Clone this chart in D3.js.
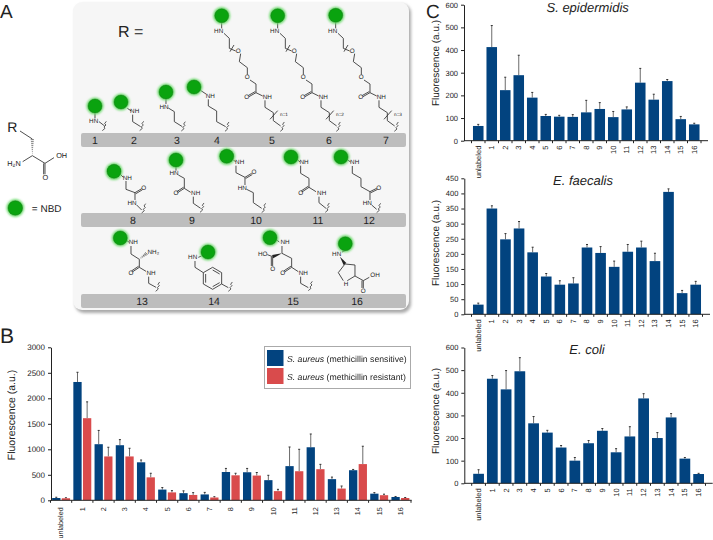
<!DOCTYPE html>
<html>
<head>
<meta charset="utf-8">
<script src="https://cdn.jsdelivr.net/npm/d3@7"></script>
<style>
html, body { margin: 0; padding: 0; background: #fff; }
svg { display: block; }
text { font-family: "Liberation Sans", Arial, sans-serif; fill: #222; text-rendering: geometricPrecision; }
</style>
</head>
<body>
<svg id="fig" width="713" height="540"></svg>
<script>
var categories = ["unlabeled","1","2","3","4","5","6","7","8","9","10","11","12","13","14","15","16"];

var sensitive    = [45,2320,1100,1080,745,210,140,115,555,550,395,670,1040,415,590,130,65];
var sensitiveTop = [60,2510,1370,1190,790,250,185,155,625,625,490,1045,1300,455,605,150,75];
var resistant    = [40,1610,860,860,450,155,105,55,490,485,180,570,610,230,710,100,45];
var resistantTop = [50,1930,1040,1020,530,190,150,70,530,545,215,1000,705,280,1060,120,55];

var epidermidis    = [65,413,223,289,190,109,106,105,125,140,104,138,256,181,263,95,72];
var epidermidisTop = [72,508,280,377,213,116,112,115,178,168,129,149,319,205,270,107,77];
var faecalis       = [32,350,248,284,205,125,98,102,221,203,157,207,221,176,405,70,98];
var faecalisTop    = [37,359,267,307,222,135,111,121,231,224,176,231,242,202,415,79,109];
var coli           = [42,462,415,495,265,224,158,100,177,232,137,207,375,200,291,109,41];
var coliTop        = [60,476,498,555,295,234,167,114,189,242,153,250,396,224,308,114,44];

var blue = "#02437f", red = "#d94b4c";
var svg = d3.select("#fig");

// filters for the soft edges of panel A
var defs = svg.append("defs");
defs.append("filter").attr("id", "glow").attr("x", "-50%").attr("y", "-50%").attr("width", "200%").attr("height", "200%")
  .append("feGaussianBlur").attr("stdDeviation", 1.3);
defs.append("filter").attr("id", "shadow").attr("x", "-5%").attr("y", "-5%").attr("width", "110%").attr("height", "110%")
  .append("feGaussianBlur").attr("stdDeviation", 1.5);

function label(parent, x, y, str, size, opts) {
  opts = opts || {};
  return parent.append("text").attr("x", x).attr("y", y).attr("font-size", size)
    .attr("text-anchor", opts.anchor || "start")
    .attr("font-style", opts.italic ? "italic" : null)
    .text(str);
}

label(svg, 0, 17.5, "A", 19);
label(svg, 0, 343, "B", 21);
label(svg, 426, 17.5, "C", 19);

// ---- panel A ----
svg.append("rect").attr("x", 75).attr("y", 4).attr("width", 336).attr("height", 309).attr("rx", 9)
  .attr("fill", "#aaa").attr("filter", "url(#shadow)");
svg.append("rect").attr("x", 73).attr("y", 2).attr("width", 336).attr("height", 308).attr("rx", 9)
  .attr("fill", "#f6f6f6");
label(svg, 118, 37, "R =", 16);

var strips = [
  {y: 133, names: ["1","2","3","4","5","6","7"], xs: [95,134,177,217,272,329,386]},
  {y: 213, names: ["8","9","10","11","12"], xs: [133,192,256,318,369]},
  {y: 294, names: ["13","14","15","16"], xs: [142,214,293,357]}
];
strips.forEach(function(s) {
  svg.append("rect").attr("x", 81).attr("y", s.y).attr("width", 325).attr("height", 14).attr("rx", 2).attr("fill", "#bdbdbd");
  s.names.forEach(function(n, i) { label(svg, s.xs[i], s.y + 11, n, 10.5, {anchor: "middle"}); });
});

function nbd(x, y, r) {
  svg.append("circle").attr("cx", x).attr("cy", y).attr("r", r + 1.6).attr("fill", "#6fdc6f").attr("filter", "url(#glow)");
  svg.append("circle").attr("cx", x).attr("cy", y).attr("r", r).attr("fill", "#0aa30f").attr("stroke", "#1c6b1c").attr("stroke-width", 0.4);
}

// structures are traced in 3x crop units, the group scales them back down
function sketch(ox, oy) {
  var g = svg.append("g").attr("transform", "translate(" + ox + "," + oy + ") scale(0.3333)");
  var line = d3.line();
  var api = {
    bond: function(pts, w) {
      g.append("path").attr("d", line(pts)).attr("fill", "none").attr("stroke", "#333").attr("stroke-width", w || 2.6);
      return api;
    },
    dbl: function(a, b) {
      var dx = b[0]-a[0], dy = b[1]-a[1], l = Math.sqrt(dx*dx+dy*dy), nx = -dy/l*4, ny = dx/l*4;
      api.bond([a, b]);
      api.bond([[a[0]+nx, a[1]+ny], [b[0]+nx, b[1]+ny]]);
      return api;
    },
    wedge: function(a, b, hashed) {
      var dx = b[0]-a[0], dy = b[1]-a[1], l = Math.sqrt(dx*dx+dy*dy), nx = -dy/l*5, ny = dx/l*5;
      if (hashed) {
        d3.range(0, 1.01, 0.12).forEach(function(t) {
          api.bond([[a[0]+dx*t-nx*t, a[1]+dy*t-ny*t], [a[0]+dx*t+nx*t, a[1]+dy*t+ny*t]], 2);
        });
      } else {
        g.append("path").attr("d", line([a, [b[0]-nx, b[1]-ny], [b[0]+nx, b[1]+ny]]) + "Z").attr("fill", "#222");
      }
      return api;
    },
    atom: function(x, y, str, size) {
      g.append("text").attr("x", x).attr("y", y).attr("font-size", size || 19).attr("text-anchor", "middle")
        .attr("dominant-baseline", "middle").attr("fill", "#333").text(str);
      return api;
    },
    wave: function(x, y) {
      api.bond([[x+7,y-14],[x+2,y-7],[x+6,y-3],[x,y+3],[x+3,y+7],[x-5,y+14]], 2.4);
      return api;
    }
  };
  return api;
}

// left hand amino acid
sketch(0, 115)
  .atom(37, 40, "R", 42)
  .bond([[60,48],[97,72]])
  .wedge([97,122],[97,72],true)
  .bond([[97,122],[68,140]]).atom(42,146,"H\u2082N",22)
  .bond([[97,122],[135,145],[162,128]]).atom(185,122,"OH",22)
  .dbl([135,145],[135,178]).atom(136,190,"O",22)
  .atom(140,282,"= NBD",30);
nbd(15.3, 208, 7.3);

var a = sketch(0, 0);
a.bond([[285,340],[285,355]]).atom(281,365,"HN").bond([[297,365],[314,378]]).wave(312,378);
a.bond([[382,325],[394,333]]).atom(404,335,"NH").bond([[398,344],[398,365],[422,380]]).wave(424,378);
a.bond([[498,296],[498,312]]).atom(492,322,"HN").bond([[505,324],[523,335],[523,365],[547,380]]).wave(549,379);
a.bond([[600,270],[618,282]]).atom(631,288,"NH").bond([[625,298],[625,318],[650,333],[650,365],[677,380]]).wave(680,380);

// the three PEG linkers only differ by n, dx is in page pixels
[{dx: 0, n: "n=1"}, {dx: 56, n: "n=2"}, {dx: 114, n: "n=3"}].forEach(function(p) {
  var s = sketch(210 + p.dx, 0);
  s.bond([[35,68],[35,85]]).atom(26,95,"HN")
   .bond([[42,100],[58,115],[58,145],[77,153]]).atom(85,155,"O")
   .bond([[60,155],[72,135]])
   .bond([[92,161],[88,185],[112,203],[112,224]]).atom(112,232,"O")
   .bond([[120,240],[138,252],[138,278]])
   .dbl([138,278],[117,290]).atom(110,292,"O")
   .bond([[138,278],[158,288]]).atom(172,291,"NH")
   .bond([[165,301],[165,322],[190,338],[190,362],[212,378]])
   .bond([[180,358],[203,332]])
   .wave(216,380)
   .atom(222,345,p.n,14);
});

var b = sketch(70, 150);
b.bond([[150,72],[160,82]]).atom(172,84,"NH").bond([[168,93],[168,118],[195,128],[195,150]]).dbl([195,128],[215,116]).atom(221,115,"O").atom(186,160,"HN").bond([[200,165],[215,180]]).wave(220,175);
b.bond([[318,50],[318,62]]).atom(312,70,"HN").bond([[325,75],[343,85],[343,115]]).dbl([343,115],[323,128]).atom(318,131,"O").bond([[343,115],[362,127]]).atom(377,131,"NH").bond([[370,140],[370,160],[392,175]]).wave(395,173);
b.bond([[487,28],[497,35]]).atom(509,38,"NH").bond([[498,47],[498,68],[525,82],[525,105]]).dbl([525,82],[545,70]).atom(552,68,"O").atom(517,114,"HN").bond([[530,118],[550,128],[550,158],[575,175]]).wave(580,174);
b.bond([[683,30],[690,36]]).atom(702,38,"NH").bond([[692,47],[692,70],[717,85],[717,112]]).dbl([717,112],[696,126]).atom(692,130,"O").bond([[717,112],[738,125]]).atom(755,130,"NH").bond([[747,140],[747,158],[768,175]]).wave(771,173);
b.bond([[833,30],[842,36]]).atom(854,38,"NH").bond([[847,48],[847,70],[873,85],[873,110],[900,125],[900,150]]).dbl([900,125],[920,115]).atom(926,115,"O").atom(892,160,"HN").bond([[905,165],[920,178]]).wave(925,174);
b.bond([[170,272],[178,277]]).atom(190,278,"NH").bond([[183,288],[183,312],[208,328],[208,352]]).wedge([208,328],[230,310],true).atom(250,306,"NH\u2082").dbl([208,352],[187,366]).atom(183,369,"O").bond([[208,352],[228,364]]).atom(243,369,"NH").bond([[236,380],[236,400],[258,412]]).wave(262,410);
b.bond([[395,318],[385,322]]).atom(368,323,"HN").bond([[375,333],[375,352],[400,368]]).bond([[400,368],[400,402],[428,418],[455,402],[455,368],[428,352],[400,368]]).bond([[407,372],[407,398]]).bond([[428,410],[449,398]]).bond([[428,360],[449,372]]).bond([[455,402],[475,413]]).wave(480,410);
b.bond([[620,270],[628,276]]).atom(645,278,"NH").bond([[636,288],[636,310],[665,325],[665,352]]).wedge([636,310],[608,320]).atom(578,312,"HO").bond([[592,314],[608,320]]).dbl([608,320],[608,348]).atom(608,358,"O").dbl([665,352],[644,366]).atom(638,370,"O").bond([[665,352],[685,365]]).atom(700,370,"NH").bond([[692,380],[692,400],[715,413]]).wave(720,408);
b.bond([[826,302],[816,306]]).atom(800,312,"HN").wedge([810,320],[825,342]).bond([[825,342],[805,368],[820,392]]).bond([[832,392],[855,378],[855,345],[825,342]]).atom(828,403,"H").bond([[855,378],[880,392],[898,382]]).atom(915,377,"OH").dbl([880,392],[880,414]).atom(880,423,"O");

[[95,106],[121,102],[166,92],[194,87],[221.7,15.7],[277.7,15.7],[335.7,15.3],[114,171.3],[176,160],[226.7,156.3],[291,157],[341,157],[120.3,238],[208,252],[270,237.7],[345.3,243.7]]
  .forEach(function(c) { nbd(c[0], c[1], 7); });

// ---- bar charts ----
// series: [{values, tops, color}], box gives the pixel frame of one chart
function barChart(box, yMax, yStep, series, title) {
  var x = d3.scaleBand().domain(categories).range([box.x0, box.x1]);
  var y = d3.scaleLinear().domain([0, yMax]).range([box.y0, box.y1]);
  var inner = d3.scaleBand().domain(d3.range(series.length)).range([0, x.bandwidth()]).paddingInner(box.gap).paddingOuter(box.outer);
  var g = svg.append("g");

  series.forEach(function(s, si) {
    var cx = function(c) { return x(c) + inner(si); };
    var bw = inner.bandwidth();
    var mid = function(c) { return cx(c) + bw / 2; };
    g.selectAll(null).data(categories).enter().append("line")
      .attr("x1", mid).attr("x2", mid)
      .attr("y1", function(c, i) { return y(s.values[i]); })
      .attr("y2", function(c, i) { return y(s.tops[i]); })
      .attr("stroke", "#6b6b6b").attr("stroke-width", 1);
    g.selectAll(null).data(categories).enter().append("line")
      .attr("x1", function(c) { return mid(c) - 1; }).attr("x2", function(c) { return mid(c) + 1; })
      .attr("y1", function(c, i) { return y(s.tops[i]); })
      .attr("y2", function(c, i) { return y(s.tops[i]); })
      .attr("stroke", "#333").attr("stroke-width", 1);
    g.selectAll(null).data(categories).enter().append("rect")
      .attr("x", cx).attr("width", bw)
      .attr("y", function(c, i) { return y(s.values[i]); })
      .attr("height", function(c, i) { return y(0) - y(s.values[i]); })
      .attr("fill", s.color);
  });

  var yAxis = d3.axisLeft(y).tickValues(d3.range(0, yMax + 1, yStep)).tickFormat(d3.format("d")).tickSize(3).tickPadding(3).tickSizeOuter(0);
  var ya = g.append("g").attr("transform", "translate(" + box.axisX + ",0)").call(yAxis);
  ya.selectAll("text").attr("font-size", box.tickFont).style("font-family", "inherit").attr("fill", "#333");
  ya.selectAll("line, path").attr("stroke", "#222");

  var xAxis = d3.axisBottom(x).tickSize(0).tickPadding(0);
  var xa = g.append("g").attr("transform", "translate(0," + box.y0 + ")").call(xAxis);
  xa.select(".domain").remove();
  xa.selectAll("text").attr("font-size", box.catFont).attr("fill", "#333")
    .attr("text-anchor", "end").attr("dy", "0.33em")
    .attr("transform", "translate(0," + box.labelGap + ") rotate(-90)").attr("x", 0).attr("y", 0);

  g.append("line").attr("x1", box.axisX).attr("x2", box.axisEnd).attr("y1", box.y0).attr("y2", box.y0).attr("stroke", "#222");
  var edges = categories.map(function(c) { return x(c); }).concat([box.x1]);
  g.selectAll(null).data(edges).enter().append("line")
    .attr("x1", function(d) { return d; }).attr("x2", function(d) { return d; })
    .attr("y1", box.y0).attr("y2", box.y0 + 2.5).attr("stroke", "#222");

  svg.append("text").attr("font-size", box.titleFont).attr("text-anchor", "middle").attr("fill", "#333")
    .attr("transform", "translate(" + box.yTitleX + "," + box.yTitleY + ") rotate(-90)")
    .text("Fluorescence (a.u.)");
  if (title) label(svg, title.x, title.y, title.text, 13, {anchor: "middle", italic: true});
}

barChart({x0: 50.5, x1: 411, y0: 500.3, y1: 347.3, axisX: 51, axisEnd: 411.7, gap: 0.14, outer: 0.17, tickFont: 8, catFont: 7.2, labelGap: 7, titleFont: 10.5, yTitleX: 15, yTitleY: 415},
  3000, 500, [{values: sensitive, tops: sensitiveTop, color: blue}, {values: resistant, tops: resistantTop, color: red}]);

var cBox = {gap: 0, outer: 0.14, tickFont: 7.5, catFont: 7.5, labelGap: 5, titleFont: 10, yTitleX: 439};
barChart(Object.assign({}, cBox, {x0: 471.5, x1: 701, y0: 140.7, y1: 4.7, axisX: 464, axisEnd: 708, yTitleY: 63}),
  600, 100, [{values: epidermidis, tops: epidermidisTop, color: blue}], {x: 587.7, y: 12, text: "S. epidermidis"});
barChart(Object.assign({}, cBox, {x0: 471.5, x1: 702.5, y0: 314.3, y1: 178.3, axisX: 464.3, axisEnd: 710, yTitleY: 243}),
  450, 50, [{values: faecalis, tops: faecalisTop, color: blue}], {x: 583, y: 185, text: "E. faecalis"});
barChart(Object.assign({}, cBox, {x0: 471.7, x1: 705.5, y0: 483.3, y1: 347.5, axisX: 464.3, axisEnd: 712.7, yTitleY: 411}),
  600, 100, [{values: coli, tops: coliTop, color: blue}], {x: 587, y: 354, text: "E. coli"});

// ---- legend of panel B ----
var legendNames = ["(methicillin sensitive)", "(methicillin resistant)"];
var legendColors = [blue, red];
var leg = svg.append("g").style("opacity", 0.999);
leg.append("rect").attr("x", 264.5).attr("y", 346.5).attr("width", 146).attr("height", 42).attr("fill", "#fff").attr("stroke", "#aaa");
legendNames.forEach(function(n, i) {
  leg.append("rect").attr("x", 267).attr("y", 350 + i * 18).attr("width", 16.5).attr("height", 16).attr("fill", legendColors[i]);
  var t = leg.append("text").attr("x", 287).attr("y", 362 + i * 17.5).attr("font-size", 8.7);
  t.append("tspan").attr("font-style", "italic").text("S. aureus ");
  t.append("tspan").text(n);
});
</script>
</body>
</html>
